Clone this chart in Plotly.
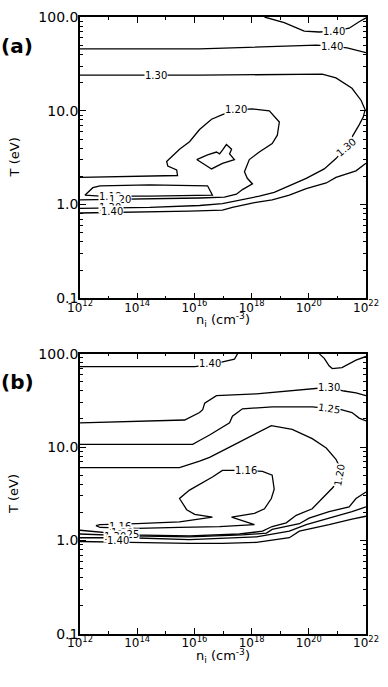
import numpy as np
import plotly.graph_objects as go

# contour lines: log10(n_i [cm^-3]) and log10(T [eV])

# ---- panel (a)
a140_top_n = [18.45, 19.14, 19.84, 20.36, 20.89, 21.41, 21.76, 22.00]
a140_top_t = [2.00, 1.94, 1.85, 1.84, 1.85, 1.88, 1.95, 1.99]

a140_mid_n = [12.00, 16.18, 20.26, 20.82, 21.34, 22.00]
a140_mid_t = [1.66, 1.66, 1.70, 1.69, 1.67, 1.62]

a130_n = [12.00, 16.18, 20.47, 20.95, 21.51, 21.83, 21.97, 21.90, 21.76, 21.58, 21.30,
          20.95, 20.54, 19.91, 19.32, 18.79, 18.27, 17.57, 16.98, 16.18, 14.44, 12.00]
a130_t = [1.38, 1.38, 1.39, 1.35, 1.24, 1.11, 1.01, 0.93, 0.85, 0.75, 0.61,
          0.49, 0.38, 0.28, 0.20, 0.13, 0.09, 0.05, 0.01, -0.01, -0.03, -0.04]

a140_low_n = [22.00, 21.65, 20.95, 20.61, 19.91, 19.32, 18.72, 18.10, 17.33, 16.98, 15.83, 14.44, 12.00]
a140_low_t = [0.44, 0.36, 0.29, 0.23, 0.17, 0.10, 0.05, 0.02, -0.03, -0.06, -0.07, -0.08, -0.09]

a120_n = [12.00, 15.41, 15.38, 15.07, 15.03, 15.48, 15.83, 16.01, 16.18, 16.60, 16.98, 17.47, 18.03, 18.62,
          18.97, 18.90, 18.72, 18.27, 17.92, 17.75, 17.85, 18.03, 17.68, 17.47, 17.05, 16.18, 14.44, 12.00]
a120_t = [0.29, 0.31, 0.37, 0.41, 0.46, 0.59, 0.67, 0.74, 0.80, 0.91, 0.96, 1.01, 1.02, 1.00,
          0.88, 0.74, 0.65, 0.56, 0.48, 0.35, 0.28, 0.22, 0.16, 0.11, 0.08, 0.07, 0.06, 0.05]

a118_n = [12.17, 12.45, 12.70, 14.44, 16.46, 16.63, 14.44, 12.70, 12.17]
a118_t = [0.10, 0.18, 0.20, 0.21, 0.20, 0.10, 0.09, 0.09, 0.10]

a118_in_n = [16.08, 16.46, 16.77, 16.88, 16.98, 17.12, 17.30, 17.23, 17.40, 16.98, 16.60, 16.36, 16.08]
a118_in_t = [0.48, 0.53, 0.56, 0.54, 0.58, 0.64, 0.59, 0.54, 0.48, 0.44, 0.38, 0.43, 0.48]

a_lab_text = ["1.40", "1.40", "1.30", "1.20", "1.30", "1.18", "1.20", "1.30", "1.40"]
a_lab_n = [20.89, 20.82, 14.65, 17.47, 21.30, 13.05, 13.39, 13.05, 13.11]
a_lab_t = [1.85, 1.69, 1.38, 1.01, 0.61, 0.09, 0.05, -0.03, -0.07]
a_lab_ang = [0, 0, 0, 0, -40, 0, 0, 0, 0]

# ---- panel (b)
b145_n = [20.36, 20.54, 20.71, 20.82, 21.16, 21.65, 22.00]
b145_t = [2.00, 1.95, 1.87, 1.84, 1.85, 1.93, 1.97]

b140_top_n = [12.00, 16.01, 16.53, 17.12, 17.40, 17.51]
b140_top_t = [1.86, 1.86, 1.88, 1.92, 1.94, 2.00]

b130_top_n = [12.00, 15.66, 16.18, 16.29, 16.36, 16.77, 18.17, 19.67, 20.01, 20.71, 21.23, 21.65, 22.00]
b130_top_t = [1.26, 1.29, 1.37, 1.40, 1.47, 1.55, 1.57, 1.61, 1.62, 1.64, 1.60, 1.58, 1.55]

b125_top_n = [12.00, 15.94, 16.18, 16.53, 17.23, 17.33, 17.68, 18.72, 20.12, 20.71, 21.13, 21.51, 21.76, 22.00]
b125_top_t = [1.03, 1.03, 1.07, 1.13, 1.26, 1.33, 1.41, 1.43, 1.43, 1.41, 1.40, 1.37, 1.31, 1.28]

b120_n = [12.00, 15.48, 16.18, 16.53, 17.23, 17.85, 18.27, 18.69, 19.42, 20.12, 20.61, 20.95, 21.09,
          21.06, 20.85, 20.47, 20.12, 19.56, 19.21, 18.72, 18.38, 17.57, 15.83, 13.74, 12.59, 12.00]
b120_t = [0.78, 0.78, 0.85, 0.89, 1.00, 1.10, 1.17, 1.23, 1.19, 1.09, 0.99, 0.87, 0.78,
          0.70, 0.57, 0.45, 0.34, 0.27, 0.19, 0.15, 0.10, 0.07, 0.05, 0.06, 0.09, 0.11]

b116_n = [17.82, 18.38, 18.72, 18.79, 18.69, 18.45, 18.10, 17.68, 17.30, 18.10, 16.88, 15.48, 13.99,
          12.70, 12.56, 12.70, 13.99, 15.48, 16.63, 16.01, 15.73, 15.48, 15.83, 16.63, 16.98, 17.82]
b116_t = [0.75, 0.74, 0.70, 0.55, 0.45, 0.34, 0.29, 0.27, 0.25, 0.17, 0.15, 0.14, 0.13,
          0.14, 0.16, 0.17, 0.18, 0.20, 0.25, 0.28, 0.33, 0.45, 0.54, 0.68, 0.75, 0.75]

b125_low_n = [22.00, 21.65, 21.41, 20.71, 20.01, 19.67, 18.72, 18.52, 17.68, 15.83, 13.74, 12.00]
b125_low_t = [0.52, 0.45, 0.36, 0.31, 0.24, 0.18, 0.12, 0.08, 0.06, 0.04, 0.05, 0.07]

b130_low_n = [22.00, 21.51, 20.71, 19.91, 19.32, 18.72, 18.17, 15.83, 13.74, 12.00]
b130_low_t = [0.36, 0.31, 0.24, 0.17, 0.10, 0.07, 0.04, 0.01, 0.03, 0.03]

b140_low_n = [22.00, 21.51, 20.71, 19.67, 19.32, 18.72, 18.17, 16.98, 15.83, 13.74, 12.00]
b140_low_t = [0.26, 0.23, 0.17, 0.10, 0.03, 0.00, -0.02, -0.03, -0.03, -0.02, -0.01]

b_lab_text = ["1.40", "1.30", "1.25", "1.20", "1.16", "1.16", "1.20", "1.25", "1.30", "1.40"]
b_lab_n = [16.53, 20.71, 20.71, 21.06, 17.82, 13.39, 13.46, 13.67, 13.22, 13.32]
b_lab_t = [1.89, 1.64, 1.41, 0.70, 0.75, 0.15, 0.09, 0.07, 0.04, 0.00]
b_lab_ang = [0, 0, 8, -80, 0, 0, 0, 0, 0, 0]

# axis ticks
x_tickvals = [1e12, 1e14, 1e16, 1e18, 1e20, 1e22]
x_ticktext = ["10<sup>12</sup>", "10<sup>14</sup>", "10<sup>16</sup>",
              "10<sup>18</sup>", "10<sup>20</sup>", "10<sup>22</sup>"]
x_minor = [1e13, 1e15, 1e17, 1e19, 1e21]
y_tickvals = [0.1, 1, 10, 100]
y_ticktext = ["0.1", "1.0", "10.0", "100.0"]
y_minor = [m * d for d in (0.1, 1, 10) for m in range(2, 10)]

panel_a = [(a140_top_n, a140_top_t), (a140_mid_n, a140_mid_t), (a130_n, a130_t),
           (a140_low_n, a140_low_t), (a120_n, a120_t), (a118_n, a118_t), (a118_in_n, a118_in_t)]
panel_b = [(b145_n, b145_t), (b140_top_n, b140_top_t), (b130_top_n, b130_top_t),
           (b125_top_n, b125_top_t), (b120_n, b120_t), (b116_n, b116_t),
           (b125_low_n, b125_low_t), (b130_low_n, b130_low_t), (b140_low_n, b140_low_t)]

FONT = "DejaVu Sans, Verdana, sans-serif"

fig = go.Figure()
for xa, ya, lines in (("x", "y", panel_a), ("x2", "y2", panel_b)):
    for ln, lt in lines:
        fig.add_trace(go.Scatter(
            x=10 ** np.array(ln), y=10 ** np.array(lt), mode="lines",
            line=dict(color="black", width=1.3), xaxis=xa, yaxis=ya,
            hoverinfo="skip", showlegend=False))

annotations = []
for xr, yr, texts, ns, ts, angs in (("x", "y", a_lab_text, a_lab_n, a_lab_t, a_lab_ang),
                                     ("x2", "y2", b_lab_text, b_lab_n, b_lab_t, b_lab_ang)):
    for txt, n, t, ang in zip(texts, ns, ts, angs):
        annotations.append(dict(
            x=n, y=t, xref=xr, yref=yr, text=txt, showarrow=False, textangle=ang,
            xanchor="center", yanchor="middle",
            font=dict(family=FONT, size=10, color="black"),
            bgcolor="white", borderpad=0))

# axis titles and panel tags
for ty, xy, tag, tagy in ((0.7728, 0.5088, "(a)", 0.9536), (0.2272, -0.0352, "(b)", 0.408)):
    annotations.append(dict(x=-0.23, y=ty, xref="paper", yref="paper", text="T (eV)",
                            textangle=-90, showarrow=False, xanchor="center", yanchor="middle",
                            font=dict(family=FONT, size=13, color="black")))
    annotations.append(dict(x=0.5, y=xy, xref="paper", yref="paper",
                            text="n<sub>i</sub> (cm<sup>-3</sup>)", showarrow=False,
                            xanchor="center", yanchor="middle",
                            font=dict(family=FONT, size=13, color="black")))
    annotations.append(dict(x=-0.2195, y=tagy, xref="paper", yref="paper", text="<b>" + tag + "</b>",
                            showarrow=False, xanchor="center", yanchor="middle",
                            font=dict(family=FONT, size=20, color="black")))

xcommon = dict(type="log", range=[12, 22], tickvals=x_tickvals, ticktext=x_ticktext,
               ticks="inside", ticklen=6, tickwidth=1, tickcolor="black", ticklabelstandoff=-3,
               minor=dict(tickvals=x_minor, ticks="inside", ticklen=3, tickcolor="black"),
               showline=True, linecolor="black", linewidth=1.5, mirror="ticks",
               showgrid=False, zeroline=False, tickfont=dict(family=FONT, size=12, color="black"))
ycommon = dict(type="log", range=[-1, 2], tickvals=y_tickvals, ticktext=y_ticktext,
               ticks="inside", ticklen=6, tickwidth=1, tickcolor="black", ticklabelstandoff=-3,
               minor=dict(tickvals=y_minor, ticks="inside", ticklen=3, tickcolor="black"),
               showline=True, linecolor="black", linewidth=1.5, mirror="ticks",
               showgrid=False, zeroline=False, tickfont=dict(family=FONT, size=14, color="black"))

fig.update_layout(
    width=388, height=687,
    margin=dict(l=80, r=21, t=9, b=53),
    paper_bgcolor="white", plot_bgcolor="white",
    showlegend=False,
    xaxis=dict(xcommon, domain=[0, 1], anchor="y"),
    yaxis=dict(ycommon, domain=[0.544, 1], anchor="x"),
    xaxis2=dict(xcommon, domain=[0, 1], anchor="y2"),
    yaxis2=dict(ycommon, domain=[0, 0.4544], anchor="x2"),
    annotations=annotations,
)

# drop the page's default body margin so the figure fills the window
fig.write_html("out.html", config={"displayModeBar": False},
               post_script="document.body.style.margin = '0px';")
